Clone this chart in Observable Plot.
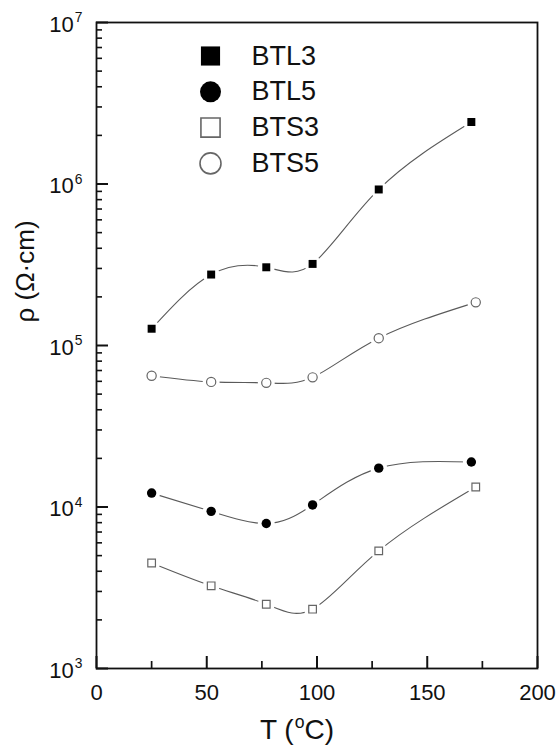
<!DOCTYPE html>
<html><head><meta charset="utf-8">
<script src="https://cdn.jsdelivr.net/npm/d3@7"></script>
<script src="https://cdn.jsdelivr.net/npm/@observablehq/plot@0.6"></script>
<style>
body{margin:0;background:#fff}
svg{font-family:"Liberation Sans",Arial,sans-serif;color:#111}
</style>
</head><body><div id="chart"></div>
<script>
// ---- data ----
const seriesNames = ["BTL3", "BTL5", "BTS3", "BTS5"];
const tempL = [25, 52, 77, 98, 128, 170];
const tempS = [25, 52, 77, 98, 128, 172];
const rhoBTL3 = [1.27e5, 2.75e5, 3.05e5, 3.2e5, 9.25e5, 2.42e6];
const rhoBTL5 = [1.22e4, 9.4e3, 7.9e3, 1.03e4, 1.74e4, 1.9e4];
const rhoBTS3 = [4.5e3, 3.25e3, 2.5e3, 2.33e3, 5.35e3, 1.33e4];
const rhoBTS5 = [6.5e4, 5.95e4, 5.87e4, 6.35e4, 1.11e5, 1.85e5];
const xMajorTicks = [0, 50, 100, 150, 200];
const xMinorTicks = [25, 75, 125, 175];
const yDecades = [1e3, 1e4, 1e5, 1e6, 1e7];
const yExponents = [3, 4, 5, 6, 7];
const yMinorMultipliers = [2, 3, 4, 5, 6, 7, 8, 9];
const xTitle = "T (^o^C)";
const yTitle = "ρ (Ω·cm)";

// ---- build tables ----
const seriesX = {BTL3: tempL, BTL5: tempL, BTS3: tempS, BTS5: tempS};
const seriesY = {BTL3: rhoBTL3, BTL5: rhoBTL5, BTS3: rhoBTS3, BTS5: rhoBTS5};
const rows = seriesNames.flatMap(s => seriesX[s].map((t, i) => ({series: s, T: t, rho: seriesY[s][i]})));
const yMinorTicks = yDecades.slice(0, -1).flatMap(d => yMinorMultipliers.map(m => m * d));

const styles = {
  BTL3: {symbol: "square", fill: "#000", stroke: "none", strokeWidth: 0, r: 4.5, lr: 10.8},
  BTL5: {symbol: "circle", fill: "#000", stroke: "none", strokeWidth: 0, r: 4.7, lr: 10.5},
  BTS3: {symbol: "square", fill: "#fff", stroke: "#666", strokeWidth: 1.2, r: 4.3, lr: 10.8},
  BTS5: {symbol: "circle", fill: "#fff", stroke: "#666", strokeWidth: 1.2, r: 4.6, lr: 10.5}
};

const W = 559, H = 749, mL = 96, mR = 22, mT = 22, mB = 81;
const innerW = W - mL - mR, innerH = H - mT - mB;
const axisColor = "#111";

const marks = [
  // curves
  Plot.line(rows, {x: "T", y: "rho", z: "series", curve: "natural", stroke: "#5a5a5a", strokeWidth: 1.1}),
  // white halos to create gaps around markers
  Plot.dot(rows, {x: "T", y: "rho", r: 8.5, fill: "#fff", stroke: "none"}),
  // markers
  ...seriesNames.map(s => Plot.dot(rows.filter(d => d.series === s), {
    x: "T", y: "rho", symbol: styles[s].symbol, r: styles[s].r,
    fill: styles[s].fill, stroke: styles[s].stroke, strokeWidth: styles[s].strokeWidth
  })),
  // frame
  Plot.frame({stroke: axisColor, strokeWidth: 1.8}),
  // inward ticks
  Plot.ruleX(xMajorTicks, {x: d => d, insetTop: innerH - 12, stroke: axisColor, strokeWidth: 2}),
  Plot.ruleX(xMinorTicks, {x: d => d, insetTop: innerH - 7, stroke: axisColor, strokeWidth: 1.7}),
  Plot.ruleY(yDecades, {y: d => d, insetRight: innerW - 12, stroke: axisColor, strokeWidth: 2}),
  Plot.ruleY(yMinorTicks, {y: d => d, insetRight: innerW - 6, stroke: axisColor, strokeWidth: 1.6}),
  // tick labels
  Plot.text(xMajorTicks, {x: d => d, frameAnchor: "bottom", dy: 24, text: d => String(d), fontSize: 22, lineAnchor: "middle", fill: "#111"}),
  Plot.text(yDecades, {y: d => d, frameAnchor: "left", dx: -14, dy: 2, text: (d, i) => "10^" + yExponents[i], textAnchor: "end", lineAnchor: "middle", fontSize: 22, fill: "#111"}),
  // axis titles
  Plot.text([xTitle], {frameAnchor: "bottom", dx: -20, dy: 62, text: d => d, fontSize: 28, lineAnchor: "middle", fill: "#111"}),
  Plot.text([yTitle], {frameAnchor: "left", dx: -71, dy: -23, text: d => d, rotate: -90, fontSize: 26, lineAnchor: "middle", fill: "#111"}),
  // legend
  ...seriesNames.flatMap((s, i) => [
    Plot.dot([s], {frameAnchor: "top-left", dx: 114, dy: 33.5 + i * 35.8, symbol: styles[s].symbol, r: styles[s].lr,
      fill: styles[s].fill, stroke: styles[s].stroke, strokeWidth: styles[s].strokeWidth ? 1.6 : 0}),
    Plot.text([s], {frameAnchor: "top-left", dx: 155, dy: 33.5 + i * 35.8, text: d => d, textAnchor: "start", lineAnchor: "middle", fontSize: 27, fill: "#111"})
  ])
];

const chart = Plot.plot({
  width: W, height: H,
  marginLeft: mL, marginRight: mR, marginTop: mT, marginBottom: mB,
  style: {fontFamily: "'Liberation Sans', Arial, sans-serif", background: "#fff"},
  x: {domain: [0, 200], axis: null},
  y: {type: "log", domain: [1e3, 1e7], axis: null},
  marks
});
document.getElementById("chart").appendChild(chart);

// superscripts: "a^b^c" -> a, raised b, c
d3.select(chart).selectAll("text").filter(function() { return this.textContent.includes("^"); }).each(function() {
  const fs = parseFloat(getComputedStyle(this).fontSize) || 22;
  const parts = this.textContent.split("^");
  const sel = d3.select(this);
  sel.text(null);
  const supSize = 0.63 * fs, raise = 0.42 * fs;
  parts.forEach((p, k) => {
    if (!p) return;
    const ts = sel.append("tspan").text(p);
    if (k % 2 === 1) {
      ts.attr("font-size", supSize).attr("dy", -raise).attr("dx", 1);
    } else if (k > 0) {
      ts.attr("dy", raise);
    }
  });
});
</script>
</body></html>
